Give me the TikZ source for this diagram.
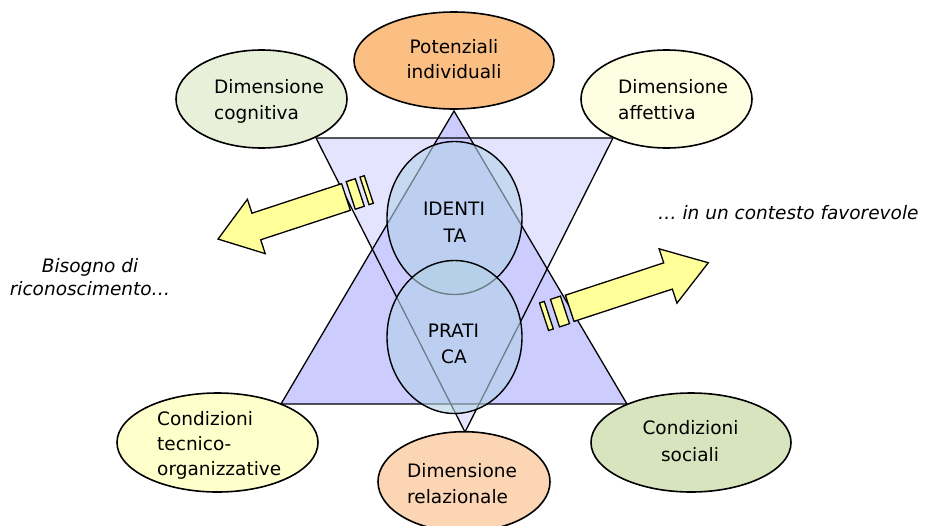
\documentclass[tikz,border=0pt]{standalone}
\usepackage{fontspec}
\setmainfont{DejaVu Sans}[ItalicFont={DejaVu Sans Oblique}]
\usetikzlibrary{shapes.geometric}
\definecolor{triA}{HTML}{CCCCFF}
\definecolor{triB}{HTML}{E4E4FF}
\definecolor{circ}{HTML}{B4D2E6}
\definecolor{cPot}{HTML}{FBBF84}
\definecolor{cCog}{HTML}{E9F0DA}
\definecolor{cAff}{HTML}{FEFEE2}
\definecolor{cTec}{HTML}{FFFFCC}
\definecolor{cRel}{HTML}{FCD5B5}
\definecolor{cSoc}{HTML}{D7E4BD}
\definecolor{arr}{HTML}{FFFF99}
\tikzset{
  ell/.style={ellipse, draw=black, line width=1.6pt, inner sep=0pt},
  circnode/.style={ellipse, draw=black, line width=1.4pt, fill=circ, fill opacity=0.6, draw opacity=1, inner sep=0pt, minimum width=135pt, minimum height=153pt},
  lbl/.style={inner sep=0pt, font=\fontsize{18.5}{26}\selectfont},
  itl/.style={inner sep=0pt, font=\fontsize{18.5}{26}\selectfont\itshape},
  triline/.style={draw=black, line width=1.3pt, line join=miter},
  arrline/.style={draw=black, line width=1.3pt, fill=arr, line join=miter}
}
\begin{document}
\begin{tikzpicture}[x=1pt, y=-1pt]
\useasboundingbox (0,0) rectangle (926,525);
% triangles
\coordinate (ua) at (454,111);
\coordinate (ul) at (281,404);
\coordinate (ur) at (627,404);
\coordinate (il) at (316,138);
\coordinate (ir) at (613,138);
\coordinate (ib) at (465,432);
\fill[triB] (il) -- (ir) -- (ib) -- cycle;
\fill[triA] (ua) -- (ur) -- (ul) -- cycle;
\draw[triline] (ua) -- (ur) -- (ul) -- cycle;
\draw[triline] (il) -- (ir) -- (ib) -- cycle;
% circles
\node[circnode] (id) at (454.5,218) {};
\node[circnode] (pr) at (454.5,337) {};
\node[lbl, anchor=base] (idA) at (454,215) {IDENTI};
\node[lbl, anchor=base] (idB) at (455,242) {TA};
\node[lbl, anchor=base] (prA) at (453.5,337) {PRATI};
\node[lbl, anchor=base] (prB) at (454,363) {CA};
% ellipses
\node[ell, fill=cPot, minimum width=200pt, minimum height=97pt] (pot) at (454,60.5) {};
\node[ell, fill=cCog, minimum width=171pt, minimum height=98pt] (cog) at (261.5,99) {};
\node[ell, fill=cAff, minimum width=171pt, minimum height=98pt] (aff) at (666.5,99) {};
\node[ell, fill=cTec, minimum width=201pt, minimum height=99pt] (tec) at (217.5,442.5) {};
\node[ell, fill=cRel, minimum width=172pt, minimum height=100pt] (rel) at (464,481.7) {};
\node[ell, fill=cSoc, minimum width=200pt, minimum height=99pt] (soc) at (691,442.5) {};
% ellipse texts
\node[lbl, anchor=base] (potA) at (454,53) {Potenziali};
\node[lbl, anchor=base] (potB) at (454,78) {individuali};
\node[lbl, anchor=base west] (cogA) at (214,93) {Dimensione};
\node[lbl, anchor=base west] (cogB) at (214,119) {cognitiva};
\node[lbl, anchor=base west] (affA) at (618,93) {Dimensione};
\node[lbl, anchor=base west] (affB) at (618,119) {affettiva};
\node[lbl, anchor=base west] (tecA) at (157,425) {Condizioni};
\node[lbl, anchor=base west] (tecB) at (157,450) {tecnico-};
\node[lbl, anchor=base west] (tecC) at (157,475) {organizzative};
\node[lbl, anchor=base west] (relA) at (407,477) {Dimensione};
\node[lbl, anchor=base west] (relB) at (407,503) {relazionale};
\node[lbl, anchor=base] (socA) at (690.5,434) {Condizioni};
\node[lbl, anchor=base] (socB) at (690,461) {sociali};
% left arrow
\begin{scope}[shift={(346,197)}, rotate=198.2]
  \draw[arrline] (0,-14) -- (94.4,-14) -- (94.4,-28.6) -- (134.7,0) -- (94.4,28.6) -- (94.4,14) -- (0,14) -- cycle;
  \draw[arrline] (-14.5,-14.5) rectangle (-5,14.5);
  \draw[arrline] (-24,-14.5) rectangle (-19.5,14.5);
\end{scope}
% right arrow
\begin{scope}[shift={(569.7,308.3)}, rotate=18.2]
  \draw[arrline] (0,-13.8) -- (103.5,-13.8) -- (103.5,-28.6) -- (145.9,0) -- (103.5,28.6) -- (103.5,13.8) -- (0,13.8) -- cycle;
  \draw[arrline] (-15.5,-14.5) rectangle (-5,14.5);
  \draw[arrline] (-27,-14.5) rectangle (-22,14.5);
\end{scope}
% italic texts
\node[itl, anchor=base] (bisA) at (90,272) {Bisogno di};
\node[itl, anchor=base] (bisB) at (90,295) {riconoscimento…};
\node[itl, anchor=base west] (ctx) at (658,219) {… in un contesto favorevole};
\end{tikzpicture}
\end{document}
